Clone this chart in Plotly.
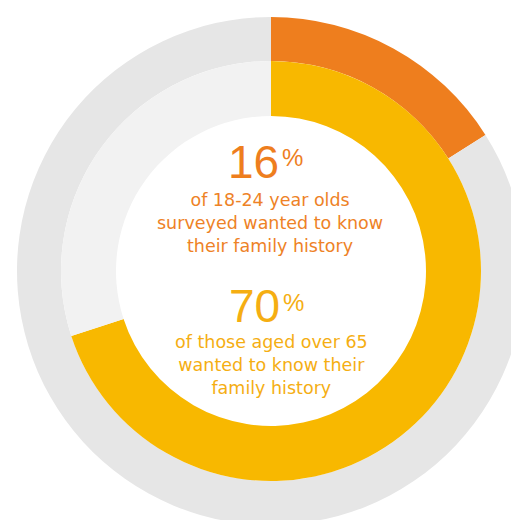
import plotly.graph_objects as go

# Data
young_label = ["Wanted to know (18-24)", "Other"]
young_values = [16, 84]
older_label = ["Wanted to know (over 65)", "Other"]
older_values = [70, 30]

young_pct_text = "16"
young_caption = ["of 18-24 year olds", "surveyed wanted to know", "their family history"]
older_pct_text = "70"
older_caption = ["of those aged over 65", "wanted to know their", "family history"]

W, H = 519, 520
OFF = 8  # page body margin
ORANGE = "#ee7e1e"
YELLOW = "#f8b800"
GRAY_OUT = "#e6e6e6"
GRAY_IN = "#f2f2f2"
TXT_OR = "#ee8226"
TXT_YE = "#f5ae12"

cx, cy = 271 - OFF, 271 - OFF  # px from figure top-left
r_out, r_mid, r_in = 254, 210, 155

def dom(r):
    return dict(x=[(cx - r) / W, min(1, (cx + r) / W)],
                y=[max(0, (H - cy - r) / H), min(1, (H - cy + r) / H)])

fig = go.Figure()
fig.add_trace(go.Pie(labels=young_label, values=young_values, sort=False,
                     direction="clockwise", rotation=0, hole=r_mid / r_out,
                     marker=dict(colors=[ORANGE, GRAY_OUT], line=dict(width=0)),
                     textinfo="none", hoverinfo="label+value",
                     domain=dom(r_out), showlegend=False))
fig.add_trace(go.Pie(labels=older_label, values=older_values, sort=False,
                     direction="clockwise", rotation=0, hole=r_in / r_mid,
                     marker=dict(colors=[YELLOW, GRAY_IN], line=dict(width=0)),
                     textinfo="none", hoverinfo="label+value",
                     domain=dom(r_mid), showlegend=False))

def px(x):
    return (x - OFF) / W

def py(y):
    return 1 - (y - OFF) / H

big = dict(family="Liberation Sans, Arial, sans-serif", size=46)
pct = dict(family="Liberation Sans, Arial, sans-serif", size=24)
small = dict(family="DejaVu Sans, sans-serif", size=17.5)

ann = []
ann.append(dict(text=young_pct_text, x=px(281), y=py(162), xanchor="right", yanchor="middle",
                font=dict(color=ORANGE, **big)))
ann.append(dict(text="%", x=px(280), y=py(157), xanchor="left", yanchor="middle",
                font=dict(color=ORANGE, **pct)))
ann.append(dict(text="<br>".join(young_caption), x=px(270), y=py(223), xanchor="center", yanchor="middle",
                font=dict(color=TXT_OR, **small)))
ann.append(dict(text=older_pct_text, x=px(282), y=py(306), xanchor="right", yanchor="middle",
                font=dict(color=TXT_YE, **big)))
ann.append(dict(text="%", x=px(281), y=py(302), xanchor="left", yanchor="middle",
                font=dict(color=TXT_YE, **pct)))
ann.append(dict(text="<br>".join(older_caption), x=px(271), y=py(365), xanchor="center", yanchor="middle",
                font=dict(color=TXT_YE, **small)))
for a in ann:
    a.update(xref="paper", yref="paper", showarrow=False)

fig.update_layout(width=W, height=H, margin=dict(l=0, r=0, t=0, b=0),
                  paper_bgcolor="white", plot_bgcolor="white", annotations=ann)
fig.write_html("out.html")
